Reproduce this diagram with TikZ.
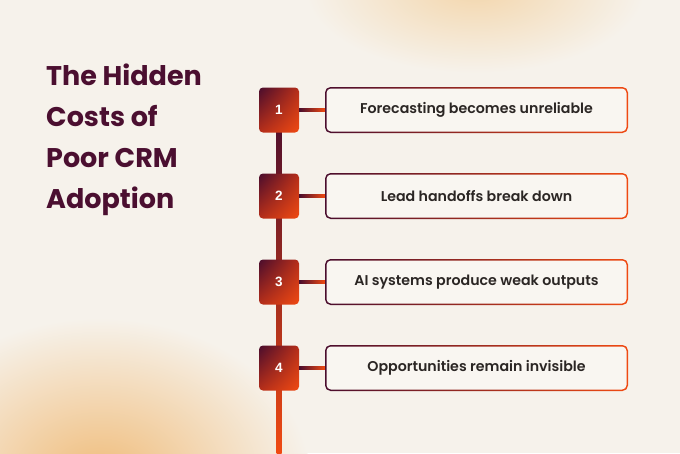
\documentclass[tikz,border=0pt]{standalone}
\usepackage{fontspec}
\setmainfont{Poppins}
\newfontfamily\titlefont{Poppins}[UprightFont=* Bold]
\newfontfamily\itemfont{Poppins}[UprightFont=* SemiBold]
\newfontfamily\numfont{Liberation Sans}[UprightFont=* Bold]
\usetikzlibrary{calc,shadings}
\definecolor{bg}{HTML}{F6F2EB}
\definecolor{maroon}{HTML}{4A0D2D}
\definecolor{orng}{HTML}{F04A12}
\definecolor{midred}{HTML}{B52E1A}
\definecolor{titlec}{HTML}{4B0F30}
\definecolor{textc}{HTML}{2B2624}
\definecolor{innerc}{HTML}{F9F6F1}
\definecolor{glowa}{HTML}{F0BC7A}
\definecolor{glowb}{HTML}{F3D6AC}
\tikzset{
  numbox/.style={minimum width=40pt, minimum height=45pt, rounded corners=4pt, inner sep=0pt,
    shade, upper left=maroon, lower right=orng, upper right=midred, lower left=midred,
    text=white, font=\numfont\fontsize{13.5}{13.5}\selectfont},
  itemouter/.style={minimum width=303pt, minimum height=46pt, rounded corners=5.5pt, inner sep=0pt,
    shade, left color=maroon, right color=orng},
  iteminner/.style={minimum width=300pt, minimum height=43pt, rounded corners=4.5pt, inner sep=0pt,
    fill=innerc, text=textc, font=\itemfont\fontsize{14.2}{14.2}\selectfont},
}
\begin{document}
\begin{tikzpicture}[x=1pt,y=-1pt]
\useasboundingbox (0,0) rectangle (680,453);
\fill[bg] (0,0) rectangle (680,453);
\begin{scope}
\clip (0,0) rectangle (680,453);
\shade[inner color=glowa, outer color=bg] (100,478) ellipse (210 and 160);
\shade[inner color=glowb, outer color=bg] (475,-12) ellipse (170 and 85);
\end{scope}
% title
\node[anchor=north west, align=left, text=titlec, font=\titlefont\fontsize{27}{41}\selectfont, inner sep=0pt] (title) at (46,64) {The Hidden\\Costs of\\Poor CRM\\Adoption};
% squares
\coordinate (p1) at (279,110);
\coordinate (bot) at (279,453);
% vertical line
\shade[top color=maroon, bottom color=orng] ($(p1)+(-2.5,0)$) rectangle ($(bot)+(2.5,0)$);
\node[numbox] (s1) at (p1) {1};
\node[numbox] (s2) at (279,196) {2};
\node[numbox] (s3) at (279,282) {3};
\node[numbox] (s4) at (279,368) {4};
% item boxes
\foreach \i/\y/\t in {1/110/Forecasting becomes unreliable, 2/196/Lead handoffs break down, 3/282/AI systems produce weak outputs, 4/368/Opportunities remain invisible}{
  \node[itemouter] (b\i) at (476.5,\y) {};
  \node[iteminner] (t\i) at (b\i) {\t};
  \shade[left color=maroon, right color=orng] ($(s\i.east)+(0,-1.5)$) rectangle ($(b\i.west)+(0,1.5)$);
}
\end{tikzpicture}
\end{document}
